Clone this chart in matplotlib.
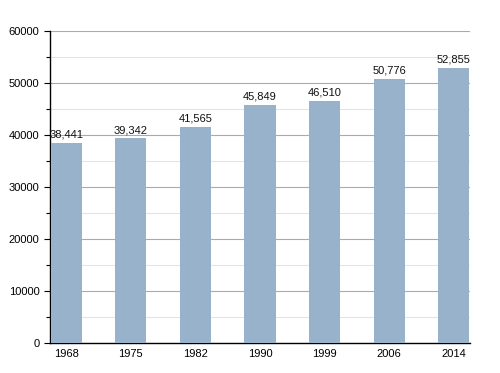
import matplotlib
matplotlib.use("Agg")
import matplotlib.pyplot as plt
from matplotlib.ticker import MultipleLocator

plt.rcParams["font.family"] = ["Liberation Sans", "DejaVu Sans"]

years = ["1968", "1975", "1982", "1990", "1999", "2006", "2014"]
population = [38441, 39342, 41565, 45849, 46510, 50776, 52855]

fig = plt.figure(figsize=(5, 3.73), dpi=100)
ax = fig.add_axes([0.1, 0.0804, 0.84, 0.8366])

x = range(len(years))
ax.bar(x, population, width=0.48, color="#98b2cc", zorder=3)
for xi, v in zip(x, population):
    ax.text(xi, v + 600, f"{v:,}", ha="center", va="bottom", fontsize=8, color="#111111")

ax.set_xlim(-0.25, len(years) - 0.75)
ax.set_ylim(0, 60000)
ax.set_xticks(list(x))
ax.set_xticklabels(years, fontsize=8)
ax.yaxis.set_major_locator(MultipleLocator(10000))
ax.yaxis.set_minor_locator(MultipleLocator(5000))
ax.tick_params(axis="y", labelsize=8, length=4, width=0.8)
ax.tick_params(axis="y", which="minor", length=3, width=0.8)
ax.tick_params(axis="x", length=0, pad=4)
ax.grid(True, axis="y", which="major", color="#aaaaaa", linewidth=0.8, zorder=0)
ax.grid(True, axis="y", which="minor", color="#e4e4e4", linewidth=0.8, zorder=0)
for s in ["top", "right"]:
    ax.spines[s].set_visible(False)
ax.spines["left"].set_linewidth(1)
ax.spines["bottom"].set_linewidth(1)

fig.savefig("out.png", dpi=100)
